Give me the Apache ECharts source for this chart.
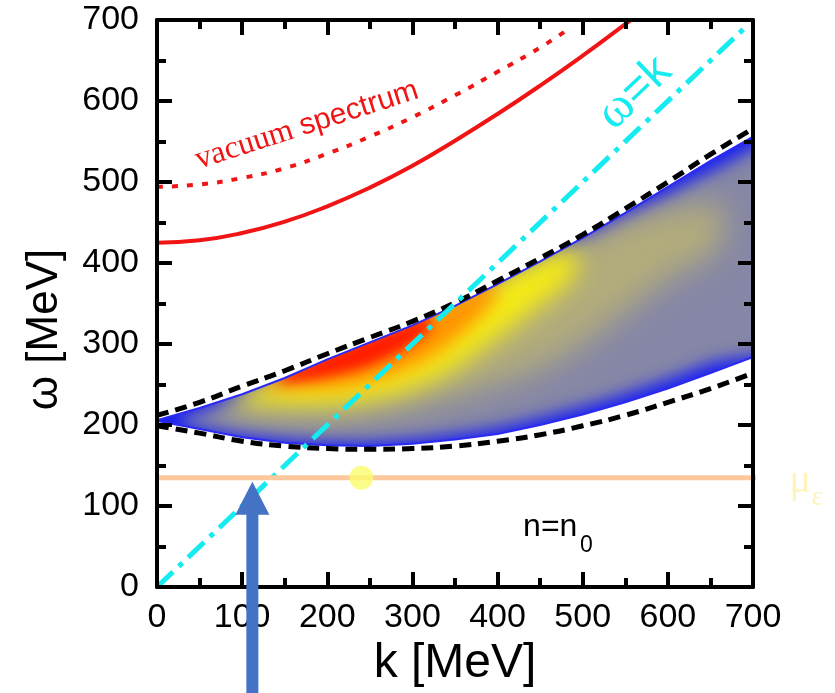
<!DOCTYPE html>
<html>
<head>
<meta charset="utf-8">
<script src="https://cdn.jsdelivr.net/npm/echarts@6/dist/echarts.min.js"></script>
<style>
  html, body { margin: 0; padding: 0; background: #fff; }
  #chart { width: 835px; height: 693px; }
</style>
</head>
<body>
<div id="chart"></div>
<script>
// red dispersion curves [k, omega] in MeV
const vacuumDotted = [[0, 494], [50, 497], [100, 505], [150, 517], [200, 535], [250, 556], [300, 580], [350, 607], [400, 636], [450, 666], [485, 690]];
const mediumSolid = [[0, 425], [50, 428], [100, 437], [150, 451], [200, 470], [250, 493], [300, 520], [350, 551], [400, 584], [450, 619], [500, 656], [550, 695], [560, 703]];

// omega = k
const lightCone = [[0, 0], [695, 695]];

// black dashed boundaries
const dashK = [0, 50, 100, 150, 200, 250, 300, 350, 400, 450, 500, 550, 600, 650, 700];
const dashUpper = [212, 228, 248, 267, 288, 308, 328, 351, 378, 406, 435, 467, 500, 534, 566];
const dashLower = [199, 190, 180, 174, 171, 170, 171, 174, 180, 188, 199, 212, 228, 245, 264];

// coloured strength region, outer edge and inner colour bands
const bandK = [0, 50, 100, 150, 200, 250, 300, 350, 400, 450, 500, 550, 600, 650, 700];
const bandTop = [206, 221, 238, 258, 281, 302, 323, 347, 374, 402, 431, 462, 494, 526, 556];
const bandBottom = [205, 195, 185, 178, 175, 174, 177, 182, 189, 200, 213, 228, 245, 264, 284];

const slateK = [30, 60, 100, 150, 200, 250, 300, 350, 400, 450, 500, 550, 600, 650, 740];
const slateTop = [209, 218, 233, 254, 278, 300, 321, 345, 370, 396, 423, 452, 482, 512, 548];
const slateBottom = [201, 196, 190, 184, 181, 180, 183, 189, 197, 209, 223, 239, 257, 277, 306];

const oliveK = [70, 110, 150, 200, 250, 300, 350, 400, 450, 500, 550, 600, 660];
const oliveTop = [228, 243, 260, 284, 306, 328, 352, 380, 406, 430, 452, 466, 472];
const oliveBottom = [216, 210, 206, 205, 210, 220, 234, 250, 270, 300, 340, 380, 420];

const yellowK = [100, 140, 190, 240, 290, 340, 390, 440, 490];
const yellowTop = [240, 256, 280, 302, 324, 348, 374, 400, 418];
const yellowBottom = [228, 226, 226, 230, 242, 264, 300, 340, 385];

const orangeK = [130, 170, 210, 250, 290, 330, 370, 395];
const orangeTop = [254, 272, 292, 308, 324, 344, 366, 380];
const orangeBottom = [246, 245, 246, 254, 268, 290, 325, 355];

const redK = [145, 180, 210, 240, 270, 300, 320];
const redTop = [260, 278, 293, 305, 317, 328, 336];
const redBottom = [253, 256, 262, 270, 283, 300, 320];

// electron chemical potential line and marker
const muLine = [[0, 135], [706, 135]];
const muDot = [[240, 135]];
const arrowTip = [112, 130];

const zip = (xs, ys) => xs.map((x, i) => [x, ys[i]]);

const layers = [
  { k: slateK, top: slateTop, bottom: slateBottom, color: '#8687a6', blur: 16 },
  { k: oliveK, top: oliveTop, bottom: oliveBottom, color: '#b2ac7c', blur: 30 },
  { k: yellowK, top: yellowTop, bottom: yellowBottom, color: '#f6ec14', blur: 24 },
  { k: orangeK, top: orangeTop, bottom: orangeBottom, color: '#ff9200', blur: 18 },
  { k: redK, top: redTop, bottom: redBottom, color: '#ff1e00', blur: 12 }
];
const SHIFT = 4000; // draw shape off screen so only its blurred shadow shows

function edge(api, ks, ws) {
  return ks.map((k, i) => api.coord([k, ws[i]]));
}

function regionItem(params, api) {
  const top = edge(api, bandK, bandTop);
  const bot = edge(api, bandK, bandBottom);
  const children = [{
    type: 'polygon',
    shape: { points: top.concat(bot.slice().reverse()) },
    style: { fill: '#1c22f2' }
  }];
  layers.forEach(L => {
    const pts = edge(api, L.k, L.top).concat(edge(api, L.k, L.bottom).reverse());
    children.push({
      type: 'polygon', x: -SHIFT,
      shape: { points: pts, smooth: 0.3 },
      style: { fill: L.color, shadowBlur: L.blur, shadowColor: L.color, shadowOffsetX: SHIFT }
    });
  });
  // white masks keep the soft colour inside the outer edge
  const tl = api.coord([0, 700]);
  const br = api.coord([700, 0]);
  const L = tl[0] - 30, R = api.getWidth(), T = tl[1] - 12, B = br[1] + 12;
  const last = top.length - 1;
  children.push(
    { type: 'polygon', shape: { points: [[L, top[0][1]]].concat(top, [[R, top[last][1]], [R, T], [L, T]]) }, style: { fill: '#fff' } },
    { type: 'polygon', shape: { points: [[L, bot[0][1]]].concat(bot, [[R, bot[last][1]], [R, B], [L, B]]) }, style: { fill: '#fff' } },
    { type: 'rect', shape: { x: br[0], y: top[last][1] - 1, width: R - br[0], height: bot[last][1] - top[last][1] + 2 }, style: { fill: '#fff' } },
    { type: 'polygon', shape: { points: top.concat(bot.slice().reverse()) }, style: { fill: 'none', stroke: '#2a2af4', lineWidth: 2 } }
  );
  return { type: 'group', children };
}

const axisStyle = {
  type: 'value', min: 0, max: 700, interval: 100, z: 10,
  axisLine: { show: true, onZero: false, lineStyle: { color: '#000', width: 4 } },
  axisTick: { show: true, inside: true, length: 15, lineStyle: { color: '#000', width: 4 } },
  minorTick: { show: true, splitNumber: 2, length: 9, lineStyle: { color: '#000', width: 4 } },
  splitLine: { show: false },
  minorSplitLine: { show: false }
};
const labelFont = { fontSize: 34, color: '#000', fontFamily: 'Liberation Sans' };

const chart = echarts.init(document.getElementById('chart'));
chart.setOption({
  animation: false,
  backgroundColor: '#fff',
  grid: { left: 157, right: 82, top: 20, bottom: 106, containLabel: false, outerBoundsMode: 'none' },
  xAxis: [
    Object.assign({}, axisStyle, {
      position: 'bottom',
      axisLabel: Object.assign({ margin: 14 }, labelFont),
      name: 'k [MeV]', nameLocation: 'middle', nameGap: 50,
      nameTextStyle: { fontSize: 48, color: '#000', fontFamily: 'Liberation Sans' }
    }),
    Object.assign({}, axisStyle, { position: 'top', axisLabel: { show: false } })
  ],
  yAxis: [
    Object.assign({}, axisStyle, {
      position: 'left',
      axisLabel: Object.assign({ margin: 18 }, labelFont),
      name: 'ω [MeV]', nameLocation: 'middle', nameRotate: 90, nameGap: 90,
      nameTextStyle: { fontSize: 44, color: '#000', fontFamily: 'Liberation Sans', padding: [0, 52, 0, 0] }
    }),
    Object.assign({}, axisStyle, { position: 'right', axisLabel: { show: false } })
  ],
  series: [
    { type: 'custom', silent: true, z: 2, data: [[0, 0]], renderItem: regionItem },
    {
      type: 'line', data: zip(dashK, dashUpper), smooth: true, symbol: 'none', z: 4,
      lineStyle: { color: '#000', width: 5, type: [12, 7] }
    },
    {
      type: 'line', data: zip(dashK, dashLower), smooth: true, symbol: 'none', z: 4,
      lineStyle: { color: '#000', width: 5, type: [12, 7] }
    },
    {
      type: 'line', data: vacuumDotted, smooth: true, symbol: 'none', z: 4,
      lineStyle: { color: '#f01414', width: 4, type: [6, 9] }
    },
    {
      type: 'line', data: mediumSolid, smooth: true, symbol: 'none', z: 4,
      lineStyle: { color: '#f01414', width: 4 }
    },
    {
      type: 'line', data: lightCone, symbol: 'none', z: 5,
      lineStyle: { color: '#14ecf0', width: 5, type: [22, 8, 5, 8] }
    },
    {
      type: 'line', data: muLine, symbol: 'none', z: 6, clip: false,
      lineStyle: { color: '#fcc89c', width: 5 }
    },
    {
      type: 'scatter', data: muDot, symbolSize: 24, z: 7,
      itemStyle: { color: '#fbfb6e' }
    },
    {
      type: 'custom', silent: true, z: 20, clip: false, data: [arrowTip],
      renderItem: (params, api) => {
        const tip = api.coord([api.value(0), api.value(1)]);
        const headH = 33, headW = 34, shaftW = 12;
        const bottom = api.getHeight();
        const x = tip[0], y = tip[1];
        return {
          type: 'polygon',
          shape: { points: [
            [x, y], [x + headW / 2, y + headH], [x + shaftW / 2, y + headH],
            [x + shaftW / 2, bottom], [x - shaftW / 2, bottom],
            [x - shaftW / 2, y + headH], [x - headW / 2, y + headH]
          ] },
          style: { fill: '#4472c4' }
        };
      }
    }
  ]
});

// text annotations anchored to data positions
const px = p => chart.convertToPixel({ xAxisIndex: 0, yAxisIndex: 0 }, p);
const vacPos = px([176, 570]);
const conePos = px([561, 610]);
const nPos = px([430, 60]);
const muPos = px([743, 116]);

chart.setOption({
  graphic: [
    {
      type: 'text', x: vacPos[0], y: vacPos[1], rotation: 0.31, z: 30,
      style: {
        text: '{s|vacuum }{a|spectrum}', align: 'center', verticalAlign: 'middle',
        rich: {
          s: { fontFamily: 'Liberation Serif', fontSize: 32, fill: '#f01414' },
          a: { fontFamily: 'Liberation Sans', fontSize: 30, fill: '#f01414' }
        }
      }
    },
    {
      type: 'text', x: conePos[0], y: conePos[1], rotation: 0.76, z: 30,
      style: {
        text: '{s|ω}{a|=k}', align: 'center', verticalAlign: 'middle',
        rich: {
          s: { fontFamily: 'Liberation Serif', fontSize: 50, fill: '#14ecf0' },
          a: { fontFamily: 'Liberation Sans', fontSize: 46, fill: '#14ecf0' }
        }
      }
    },
    {
      type: 'text', x: nPos[0], y: nPos[1] - 11, z: 30,
      style: { text: 'n=n', font: '32px "Liberation Sans"', fill: '#000', align: 'left', verticalAlign: 'middle' }
    },
    {
      type: 'text', x: nPos[0] + 57, y: nPos[1] + 7, z: 30,
      style: { text: '0', font: '23px "Liberation Sans"', fill: '#000', align: 'left', verticalAlign: 'middle' }
    },
    {
      type: 'text', x: muPos[0], y: muPos[1] - 12, z: 30,
      style: { text: 'μ', font: '40px "Liberation Serif"', fill: '#fff4bc', align: 'left', verticalAlign: 'middle' }
    },
    {
      type: 'text', x: muPos[0] + 22, y: muPos[1] + 5, z: 30,
      style: { text: 'ε', font: '28px "Liberation Serif"', fill: '#fff4bc', align: 'left', verticalAlign: 'middle' }
    }
  ]
});
</script>
</body>
</html>
